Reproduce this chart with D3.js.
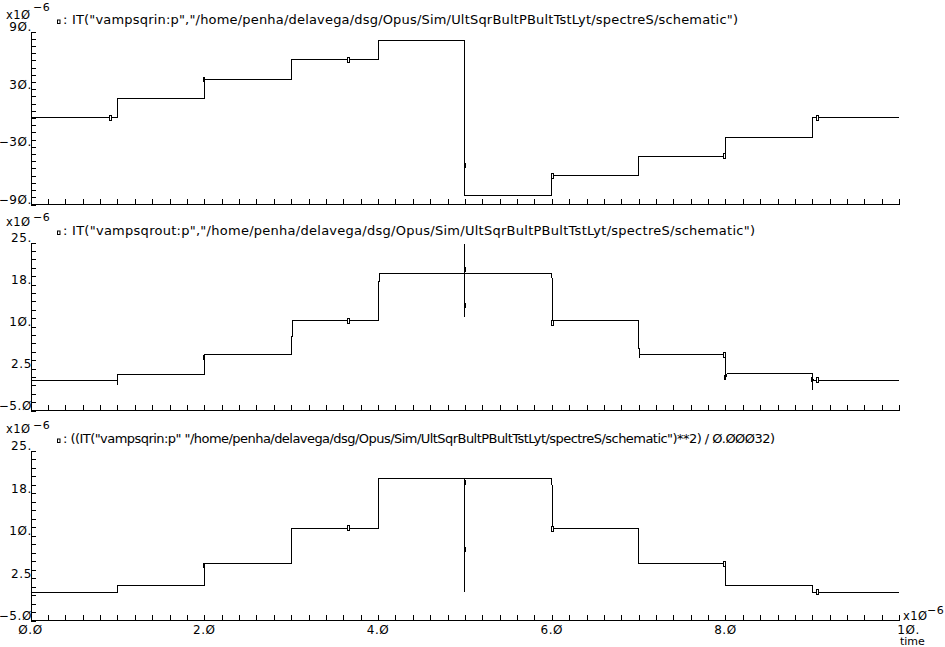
<!DOCTYPE html>
<html><head><meta charset="utf-8">
<script src="https://cdn.jsdelivr.net/npm/d3@7"></script>
<style>
body{margin:0;background:#fff}
svg{display:block;background:#fff}
text{font-family:"DejaVu Sans",sans-serif;fill:#000}
</style>
</head><body>
<svg id="c" width="945" height="647"></svg>
<script>
// ---------------- data ----------------
const timeTicks  = [0, 2, 4, 6, 8, 10];
const timeLabels = ["Ø.Ø", "2.Ø", "4.Ø", "6.Ø", "8.Ø", "1Ø."];

const topTicks  = [90, 30, -30, -90];
const topLabels = ["9Ø.", "3Ø.", "−3Ø.", "−9Ø."];
const sqTicks   = [25, 17.5, 10, 2.5, -5];
const sqLabels  = ["25.", "18.", "1Ø.", "2.5", "−5.Ø"];

const legendTop = ': IT("vampsqrin:p","/home/penha/delavega/dsg/Opus/Sim/UltSqrBultPBultTstLyt/spectreS/schematic")';
const legendMid = ': IT("vampsqrout:p","/home/penha/delavega/dsg/Opus/Sim/UltSqrBultPBultTstLyt/spectreS/schematic")';
const legendBot = ': ((IT("vampsqrin:p" "/home/penha/delavega/dsg/Opus/Sim/UltSqrBultPBultTstLyt/spectreS/schematic")**2) / Ø.ØØØ32)';

// time in 1e-6 s, values in 1e-6
const topT = [0, 1, 1, 2, 2, 3, 3, 4, 4, 5, 5, 6, 6, 7, 7, 8, 8, 9, 9, 10];
const topV = [0.5, 0.5, 20.3, 20.3, 40.4, 40.4, 60.6, 60.6, 80.6, 80.6, -80.6, -80.6, -60.2, -60.2, -40.0, -40.0, -20.3, -20.3, 0.5, 0.5];

const midT = [0, 1, 1, 1, 1.012, 2, 2, 3, 3, 3.012, 3.012, 4, 4, 4.012, 4.012, 5, 5, 5, 5,
              6, 6, 6.012, 6.012, 6.02, 7, 7, 7.012, 7.012, 7.012, 8, 8, 8.012, 8.023, 9, 9, 9, 9.015, 10];
const midV = [0.36, 0.36, -0.36, 1.43, 1.43, 1.43, 5.0, 5.0, 8.2, 8.2, 11.07, 11.07, 18.04, 18.04, 19.46, 19.46, 24.7, 11.7, 19.46,
              19.46, 18.75, 18.1, 10.9, 11.07, 11.07, 6.07, 6.07, 4.46, 5.0, 5.0, 0.54, 1.3, 1.61, 1.61, -1.25, 0.8, 0.36, 0.36];

const botT = [0, 1, 1, 2, 2, 3, 3, 4, 4, 5, 5, 5, 6, 6, 6.012, 6.012, 7, 7, 8, 8, 9, 9, 10];
const botV = [0, 0, 1.25, 1.25, 5, 5, 11.25, 11.25, 20, 20, 0, 20, 20, 19, 18.4, 11.25, 11.25, 5, 5, 1.25, 1.25, 0, 0];

// waveform markers (1 = filled, 0 = open)
const topMarkT = [0.923, 2.0, 3.665, 5.0, 6.012, 8.0, 9.066];
const topMarkV = [0.5, 40.8, 60.6, -49.1, -60.2, -40.0, 0.5];
const topMarkF = [0, 1, 0, 1, 0, 0, 0];

const midMarkT = [2.0, 3.665, 5.0, 5.0, 6.012, 8.0, 8.0, 9.0, 9.066];
const midMarkV = [4.64, 11.07, 20.27, 13.84, 10.7, 5.0, 0.9, 0.54, 0.36];
const midMarkF = [1, 0, 1, 1, 0, 0, 1, 1, 0];

const botMarkT = [2.0, 3.665, 5.0, 5.0, 6.012, 8.0, 9.066];
const botMarkV = [4.88, 11.25, 19.4, 7.65, 11.2, 5.0, 0.06];
const botMarkF = [1, 0, 1, 1, 0, 0, 0];

// ---------------- layout ----------------
const svg = d3.select("#c");
svg.append("rect").attr("width", 945).attr("height", 647).attr("fill", "#fff");

const x = d3.scaleLinear().domain([0, 10]).range([30.6, 899.2]);
const axisX = 31;

const panels = [
  {T: topT, V: topV, mT: topMarkT, mV: topMarkV, mF: topMarkF, dom: [-90, 90], top: 31.5, bot: 204.5, axY: 204,
   minor: 7.5, ticks: topTicks, labels: topLabels, legend: legendTop, legLen: 675, expBase: 18.5, expSup: 10.5},
  {T: midT, V: midV, mT: midMarkT, mV: midMarkV, mF: midMarkF, dom: [-5, 25], top: 242.5, bot: 410.5, axY: 410,
   minor: 1.5, ticks: sqTicks, labels: sqLabels, legend: legendMid, legLen: 692, expBase: 225.7, expSup: 220.5},
  {T: botT, V: botV, mT: botMarkT, mV: botMarkV, mF: botMarkF, dom: [-5, 25], top: 450.5, bot: 620.5, axY: 620,
   minor: 1.5, ticks: sqTicks, labels: sqLabels, legend: legendBot, legLen: 712, expBase: 432.7, expSup: 428.5}
];

const xMinor = d3.range(0, 10.0001, 0.2);

panels.forEach((p, i) => {
  const y = d3.scaleLinear().domain(p.dom).range([p.bot, p.top]);
  const g = svg.append("g");

  // y axis: ticks pointing right
  const yMinor = d3.range(p.dom[0], p.dom[1] + 1e-6, p.minor);
  const ya = g.append("g").attr("transform", `translate(${axisX},0)`)
    .call(d3.axisRight(y).tickValues(yMinor).tickSize(5).tickSizeOuter(0).tickFormat(""));
  ya.attr("shape-rendering", "crispEdges");
  ya.selectAll("path,line").attr("stroke", "#000");
  // y labels
  const yl = g.append("g").attr("transform", `translate(${axisX},0)`)
    .call(d3.axisLeft(y).tickValues(p.ticks).tickSize(0).tickPadding(-1)
      .tickFormat((d, j) => p.labels[j]));
  yl.select(".domain").remove();
  yl.selectAll("text").attr("dy", "-1").attr("font-size", 12)
    .attr("font-family", '"DejaVu Sans",sans-serif').attr("letter-spacing", "0.6px");

  // x axis: ticks pointing up
  const xa = g.append("g").attr("transform", `translate(0,${p.axY})`)
    .call(d3.axisTop(x).tickValues(xMinor).tickSize(5).tickSizeOuter(0).tickFormat(""));
  xa.attr("shape-rendering", "crispEdges");
  xa.selectAll("path,line").attr("stroke", "#000");

  // exponent label
  const ex = g.append("text").attr("x", 6).attr("y", p.expBase).attr("font-size", 11.5).attr("letter-spacing", "0.5px");
  ex.append("tspan").text("x1Ø");
  ex.append("tspan").attr("x", 33).attr("y", p.expSup).attr("font-size", 11).text("−6");

  // legend
  g.append("rect").attr("x", 57.5).attr("y", p.top - 11.5).attr("width", 2.5).attr("height", 3.5)
    .attr("fill", "#fff").attr("stroke", "#000").attr("stroke-width", 1);
  g.append("text").attr("x", 63).attr("y", p.top - 8).attr("font-size", 13)
    .attr("textLength", p.legLen).attr("lengthAdjust", "spacing").text(p.legend);

  // waveform
  const pts = p.T.map((t, j) => [t, p.V[j]]);
  g.append("path").datum(pts)
    .attr("d", d3.line().x(d => x(d[0])).y(d => y(d[1])))
    .attr("fill", "none").attr("stroke", "#000").attr("stroke-width", 1)
    .attr("shape-rendering", "crispEdges");

  // markers
  const mk = p.mT.map((t, j) => ({t, v: p.mV[j], f: p.mF[j]}));
  g.selectAll("rect.mk").data(mk).join("rect").attr("class", "mk")
    .attr("x", d => Math.round(x(d.t)) - (d.f ? 1 : 1.5))
    .attr("y", d => Math.round(y(d.v)) - 2.5)
    .attr("width", 2)
    .attr("height", 5)
    .attr("fill", d => d.f ? "#000" : "#fff")
    .attr("stroke", d => d.f ? "none" : "#000")
    .attr("stroke-width", 1)
    .attr("shape-rendering", "crispEdges");

  // bottom panel: time labels
  if (i === panels.length - 1) {
    g.selectAll("text.tl").data(timeTicks).join("text").attr("class", "tl")
      .attr("x", (d, j) => j === timeTicks.length - 1 ? x(d) - 2 : x(d))
      .attr("y", 634)
      .attr("text-anchor", (d, j) => j === timeTicks.length - 1 ? "start" : "middle")
      .attr("font-size", 12).attr("letter-spacing", "0.6px")
      .text((d, j) => timeLabels[j]);
    const te = g.append("text").attr("x", 903).attr("y", 620).attr("font-size", 11.5).attr("letter-spacing", "0.5px");
    te.append("tspan").text("x1Ø");
    te.append("tspan").attr("x", 927).attr("y", 614).attr("font-size", 11).text("−6");
    g.append("text").attr("x", 900).attr("y", 644.5).attr("font-size", 11).text("time");
  }
});
</script>
</body></html>
